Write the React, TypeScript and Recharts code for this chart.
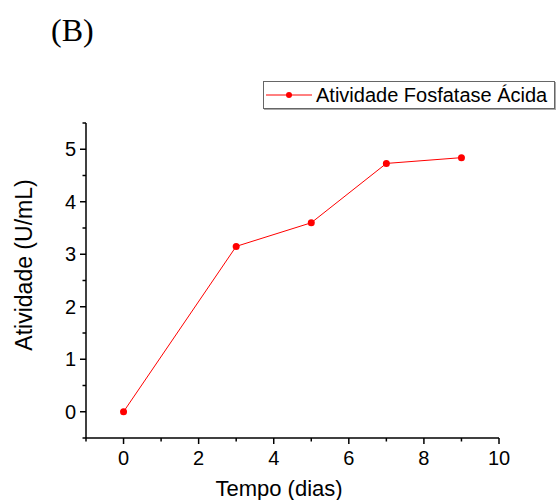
import React from "react";
import { LineChart, Line, XAxis, YAxis, Legend } from "recharts";

const days = [0, 3, 5, 7, 9];
const activity = [0, 3.15, 3.6, 4.73, 4.84];
const xTicks = [-1, 0, 1, 2, 3, 4, 5, 6, 7, 8, 9, 10];
const xMajor = [0, 2, 4, 6, 8, 10];
const yTicks = [-0.5, 0, 0.5, 1, 1.5, 2, 2.5, 3, 3.5, 4, 4.5, 5, 5.5];
const yMajor = [0, 1, 2, 3, 4, 5];
const seriesName = "Atividade Fosfatase Ácida";
const xTitle = "Tempo (dias)";
const yTitle = "Atividade (U/mL)";
const panelLabel = "(B)";

const data = days.map((d, i) => ({ day: d, value: activity[i] }));

const FONT = '"Liberation Sans", Arial, sans-serif';

const XTick = (props: any) => {
  const { x, y, payload } = props;
  const major = xMajor.includes(payload.value);
  return (
    <g>
      <line x1={x} y1={y} x2={x} y2={y + (major ? 6 : 3.5)} stroke="#000" strokeWidth={1.5} />
      {major && (
        <text x={x} y={y + 27} textAnchor="middle" fontSize={20} fontFamily={FONT} fill="#000">
          {payload.value}
        </text>
      )}
    </g>
  );
};

const YTick = (props: any) => {
  const { x, y, payload } = props;
  const major = yMajor.includes(payload.value);
  return (
    <g>
      <line x1={x - (major ? 6 : 3.5)} y1={y} x2={x} y2={y} stroke="#000" strokeWidth={1.5} />
      {major && (
        <text x={x - 10} y={y} dy="0.36em" textAnchor="end" fontSize={20} fontFamily={FONT} fill="#000">
          {payload.value}
        </text>
      )}
    </g>
  );
};

const LegendBox = (props: any) => {
  const item = (props.payload && props.payload[0]) || { value: seriesName, color: "#ff0000" };
  return (
    <div
      style={{
        boxSizing: "border-box",
        width: 292,
        height: 28,
        border: "1px solid #666",
        boxShadow: "1px 1px 0 #aaa",
        background: "#fff",
        display: "flex",
        alignItems: "center",
        fontFamily: FONT,
        fontSize: 20,
        color: "#000",
      }}
    >
      <svg width={52} height={26} style={{ flex: "none" }}>
        <line x1={2} y1={13} x2={48} y2={13} stroke={item.color} strokeWidth={1} />
        <circle cx={25} cy={13} r={3} fill={item.color} />
      </svg>
      <span style={{ whiteSpace: "nowrap", lineHeight: "26px" }}>{item.value}</span>
    </div>
  );
};

export default function App() {
  return (
    <div style={{ position: "absolute", left: 0, top: 0, width: 556, height: 500, background: "#fff" }}>
      <div
        style={{
          position: "absolute",
          left: 51,
          top: 12,
          fontFamily: '"Liberation Serif", "Times New Roman", serif',
          fontSize: 32,
          lineHeight: "36px",
          color: "#000",
        }}
      >
        {panelLabel}
      </div>
      <LineChart width={556} height={500} data={data} margin={{ top: 123, right: 57, bottom: 22, left: 26 }}>
        <XAxis
          dataKey="day"
          type="number"
          domain={[-1, 10]}
          ticks={xTicks}
          interval={0}
          allowDataOverflow
          height={40}
          tickSize={0}
          tickMargin={0}
          tickLine={false}
          axisLine={{ stroke: "#000", strokeWidth: 1.5 }}
          tick={<XTick />}
          label={{
            content: () => (
              <text x={279} y={496} textAnchor="middle" fontSize={22} fontFamily={FONT} fill="#000">
                {xTitle}
              </text>
            ),
          }}
        />
        <YAxis
          type="number"
          domain={[-0.5, 5.5]}
          ticks={yTicks}
          interval={0}
          allowDataOverflow
          width={60}
          tickSize={0}
          tickMargin={0}
          tickLine={false}
          axisLine={{ stroke: "#000", strokeWidth: 1.5 }}
          tick={<YTick />}
          label={{
            content: () => (
              <text
                x={32}
                y={265}
                transform="rotate(-90 32 265)"
                textAnchor="middle"
                fontSize={23}
                fontFamily={FONT}
                fill="#000"
              >
                {yTitle}
              </text>
            ),
          }}
        />
        <Legend
          layout="vertical"
          verticalAlign="middle"
          align="center"
          wrapperStyle={{ left: 263, top: 81, width: 292, height: 28 }}
          content={<LegendBox />}
        />
        <Line
          dataKey="value"
          name={seriesName}
          stroke="#ff0000"
          strokeWidth={1}
          dot={{ r: 3.5, fill: "#ff0000", stroke: "none" }}
          activeDot={false}
          isAnimationActive={false}
        />
      </LineChart>
    </div>
  );
}
